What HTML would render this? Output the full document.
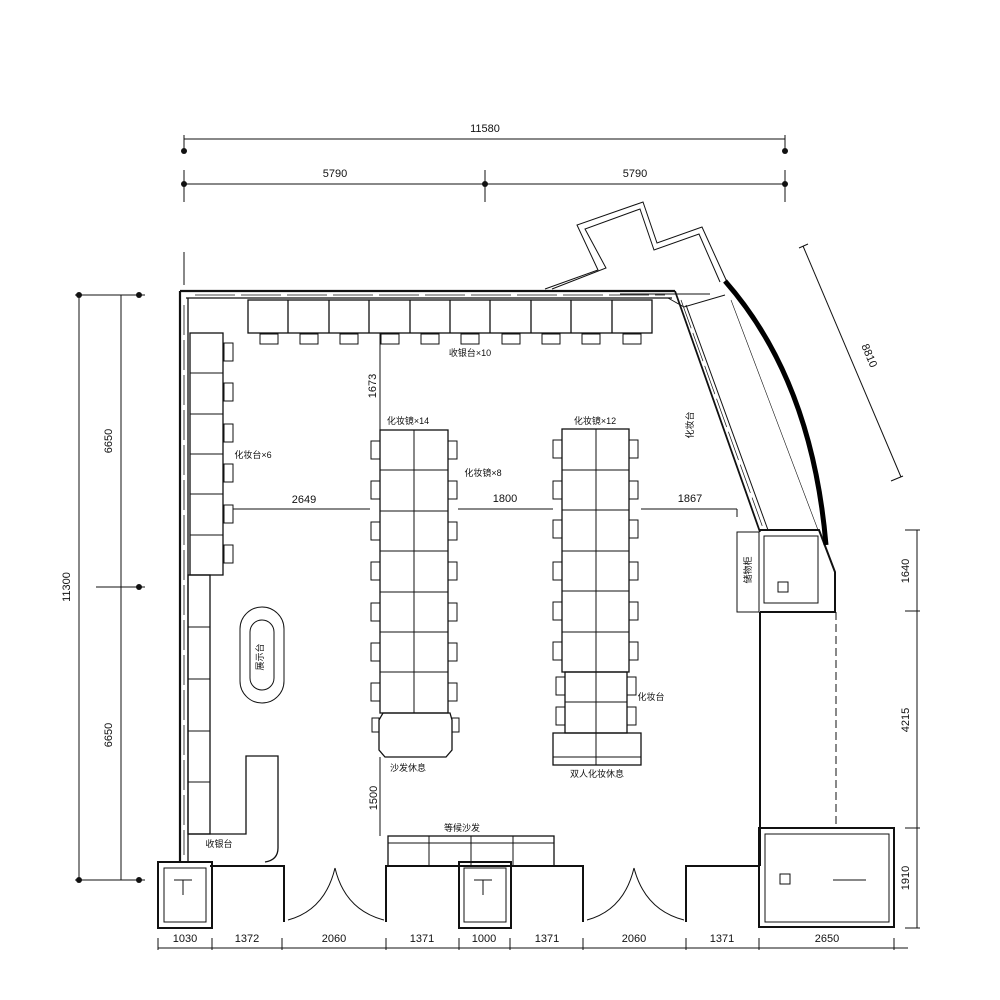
<!DOCTYPE html>
<html><head><meta charset="utf-8"><style>
html,body{margin:0;padding:0;background:#fff}
svg{display:block}
text{font-family:"Liberation Sans","Noto Sans CJK SC",sans-serif;fill:#111}
</style></head><body>
<svg width="1000" height="1000" viewBox="0 0 1000 1000" xmlns="http://www.w3.org/2000/svg">
<rect width="1000" height="1000" fill="#fff"/>
<g stroke="#111" fill="none" stroke-width="1">
<!-- top dims -->
<line x1="184" y1="139" x2="785" y2="139"/>
<line x1="184" y1="135" x2="184" y2="152"/><line x1="785" y1="135" x2="785" y2="152"/>
<line x1="184" y1="184" x2="785" y2="184"/>
<line x1="184" y1="170" x2="184" y2="202"/><line x1="485" y1="170" x2="485" y2="202"/><line x1="785" y1="170" x2="785" y2="202"/>
<line x1="184" y1="252" x2="184" y2="285"/>
<!-- left dims -->
<line x1="79" y1="295" x2="79" y2="880"/>
<line x1="121" y1="295" x2="121" y2="880"/>
<line x1="75" y1="295" x2="145" y2="295"/><line x1="96" y1="587" x2="145" y2="587"/><line x1="75" y1="880" x2="145" y2="880"/>
<!-- bottom dims -->
<line x1="158" y1="948" x2="908" y2="948"/>
<line x1="158" y1="938" x2="158" y2="950"/><line x1="212" y1="938" x2="212" y2="950"/><line x1="282" y1="938" x2="282" y2="950"/><line x1="386" y1="938" x2="386" y2="950"/><line x1="459" y1="938" x2="459" y2="950"/><line x1="510" y1="938" x2="510" y2="950"/><line x1="583" y1="938" x2="583" y2="950"/><line x1="686" y1="938" x2="686" y2="950"/><line x1="759" y1="938" x2="759" y2="950"/><line x1="894" y1="938" x2="894" y2="950"/>
<!-- right dims -->
<line x1="917" y1="530" x2="917" y2="928"/>
<line x1="905" y1="530" x2="920" y2="530"/><line x1="905" y1="611" x2="920" y2="611"/><line x1="905" y1="828" x2="920" y2="828"/><line x1="905" y1="928" x2="920" y2="928"/>
<!-- diagonal dim -->
<line x1="803" y1="246" x2="901" y2="477"/>
<line x1="799" y1="248" x2="808" y2="244"/><line x1="891" y1="481" x2="903" y2="476"/>
</g>
<g fill="#111">
<circle cx="184" cy="151" r="3"/><circle cx="785" cy="151" r="3"/>
<circle cx="184" cy="184" r="3"/><circle cx="485" cy="184" r="3"/><circle cx="785" cy="184" r="3"/>
<circle cx="79" cy="295" r="3"/><circle cx="139" cy="295" r="3"/><circle cx="139" cy="587" r="3"/><circle cx="79" cy="880" r="3"/><circle cx="139" cy="880" r="3"/>
</g>
<g font-size="11" text-anchor="middle">
<text x="485" y="132">11580</text>
<text x="335" y="177">5790</text>
<text x="635" y="177">5790</text>
<text transform="translate(70,587) rotate(-90)">11300</text>
<text transform="translate(112,441) rotate(-90)">6650</text>
<text transform="translate(112,735) rotate(-90)">6650</text>
<text x="185" y="942">1030</text><text x="247" y="942">1372</text><text x="334" y="942">2060</text><text x="422" y="942">1371</text><text x="484" y="942">1000</text><text x="547" y="942">1371</text><text x="634" y="942">2060</text><text x="722" y="942">1371</text><text x="827" y="942">2650</text>
<text transform="translate(909,571) rotate(-90)">1640</text>
<text transform="translate(909,720) rotate(-90)">4215</text>
<text transform="translate(909,878) rotate(-90)">1910</text>
<text transform="translate(866,357) rotate(67)">8810</text>
<text x="304" y="503">2649</text>
<text x="505" y="502">1800</text>
<text x="690" y="502">1867</text>
<text transform="translate(376,386) rotate(-90)">1673</text>
<text transform="translate(377,798) rotate(-90)">1500</text>
</g>
<g font-size="9" text-anchor="middle">
<text x="470" y="356">收银台×10</text>
<text x="253" y="458">化妆台×6</text>
<text x="408" y="424">化妆镜×14</text>
<text x="483" y="476">化妆镜×8</text>
<text x="595" y="424">化妆镜×12</text>
<text x="651" y="700">化妆台</text>
<text x="408" y="771">沙发休息</text>
<text x="597" y="777">双人化妆休息</text>
<text x="462" y="831">等候沙发</text>
<text x="219" y="847">收银台</text>
<text transform="translate(693,425) rotate(-90)">化妆台</text>
<text transform="translate(751,570) rotate(-90)">储物柜</text>
<text transform="translate(263,657) rotate(-90)">展示台</text>
</g>
<g stroke="#111" fill="none" stroke-width="1.3">
<!-- top wall -->
<line x1="180" y1="291" x2="675" y2="291" stroke-width="2.2"/>
<line x1="186" y1="298" x2="672" y2="298"/>
<line x1="195" y1="295" x2="665" y2="295" stroke-dasharray="40,6" stroke-width="0.8"/>
<!-- left wall -->
<line x1="180" y1="291" x2="180" y2="862" stroke-width="2.2"/>
<line x1="188" y1="298" x2="188" y2="862"/>
<line x1="184" y1="305" x2="184" y2="855" stroke-dasharray="30,5" stroke-width="0.8"/>
<!-- top cabinets -->
<rect x="248" y="300" width="404" height="33"/>
<line x1="288" y1="300" x2="288" y2="333"/><line x1="329" y1="300" x2="329" y2="333"/><line x1="369" y1="300" x2="369" y2="333"/><line x1="410" y1="300" x2="410" y2="333"/><line x1="450" y1="300" x2="450" y2="333"/><line x1="490" y1="300" x2="490" y2="333"/><line x1="531" y1="300" x2="531" y2="333"/><line x1="571" y1="300" x2="571" y2="333"/><line x1="612" y1="300" x2="612" y2="333"/>
</g>
<g stroke="#111" fill="none" stroke-width="1">
<rect x="260" y="334" width="18" height="10"/><rect x="300" y="334" width="18" height="10"/><rect x="340" y="334" width="18" height="10"/><rect x="381" y="334" width="18" height="10"/><rect x="421" y="334" width="18" height="10"/><rect x="461" y="334" width="18" height="10"/><rect x="502" y="334" width="18" height="10"/><rect x="542" y="334" width="18" height="10"/><rect x="582" y="334" width="18" height="10"/><rect x="623" y="334" width="18" height="10"/>
<!-- left cabinets -->
<rect x="190" y="333" width="33" height="242" stroke-width="1.3"/>
<line x1="190" y1="373" x2="223" y2="373"/><line x1="190" y1="414" x2="223" y2="414"/><line x1="190" y1="454" x2="223" y2="454"/><line x1="190" y1="494" x2="223" y2="494"/><line x1="190" y1="535" x2="223" y2="535"/>
<rect x="224" y="343" width="9" height="18"/><rect x="224" y="383" width="9" height="18"/><rect x="224" y="424" width="9" height="18"/><rect x="224" y="464" width="9" height="18"/><rect x="224" y="505" width="9" height="18"/><rect x="224" y="545" width="9" height="18"/>
<!-- lower left cabinets -->
<rect x="188" y="575" width="22" height="259" stroke-width="1.3"/>
<line x1="188" y1="627" x2="210" y2="627"/><line x1="188" y1="679" x2="210" y2="679"/><line x1="188" y1="731" x2="210" y2="731"/><line x1="188" y1="782" x2="210" y2="782"/>
<!-- L counter -->
<path d="M188 834 H246 V756 H278 V848 Q278 860 265 862" stroke-width="1.3"/>
<!-- oval -->
<rect x="240" y="607" width="44" height="96" rx="22"/>
<rect x="250" y="620" width="24" height="70" rx="12"/>
<!-- table 1 -->
<rect x="380" y="430" width="68" height="283" stroke-width="1.3"/>
<line x1="414" y1="430" x2="414" y2="713"/>
<line x1="380" y1="470" x2="448" y2="470"/><line x1="380" y1="511" x2="448" y2="511"/><line x1="380" y1="551" x2="448" y2="551"/><line x1="380" y1="592" x2="448" y2="592"/><line x1="380" y1="632" x2="448" y2="632"/><line x1="380" y1="672" x2="448" y2="672"/>
<rect x="371" y="441" width="9" height="18"/><rect x="371" y="481" width="9" height="18"/><rect x="371" y="522" width="9" height="18"/><rect x="371" y="562" width="9" height="18"/><rect x="371" y="603" width="9" height="18"/><rect x="371" y="643" width="9" height="18"/><rect x="371" y="683" width="9" height="18"/>
<rect x="448" y="441" width="9" height="18"/><rect x="448" y="481" width="9" height="18"/><rect x="448" y="522" width="9" height="18"/><rect x="448" y="562" width="9" height="18"/><rect x="448" y="603" width="9" height="18"/><rect x="448" y="643" width="9" height="18"/><rect x="448" y="683" width="9" height="18"/>
<path d="M383 713 H450 L452 720 V750 L446 757 H385 L379 750 V720 Z" stroke-width="1.3"/>
<rect x="372" y="718" width="7" height="14"/><rect x="452" y="718" width="7" height="14"/>
<line x1="380" y1="333" x2="380" y2="430"/>
<line x1="380" y1="757" x2="380" y2="836"/>
<!-- table 2 -->
<rect x="562" y="429" width="67" height="243" stroke-width="1.3"/>
<line x1="596" y1="429" x2="596" y2="765"/>
<line x1="562" y1="470" x2="629" y2="470"/><line x1="562" y1="510" x2="629" y2="510"/><line x1="562" y1="551" x2="629" y2="551"/><line x1="562" y1="591" x2="629" y2="591"/><line x1="562" y1="632" x2="629" y2="632"/>
<rect x="565" y="672" width="62" height="61" stroke-width="1.3"/>
<line x1="565" y1="702" x2="627" y2="702"/>
<rect x="553" y="440" width="9" height="18"/><rect x="553" y="481" width="9" height="18"/><rect x="553" y="520" width="9" height="18"/><rect x="553" y="562" width="9" height="18"/><rect x="553" y="602" width="9" height="18"/><rect x="553" y="642" width="9" height="18"/><rect x="556" y="677" width="9" height="18"/><rect x="556" y="707" width="9" height="18"/>
<rect x="629" y="440" width="9" height="18"/><rect x="629" y="481" width="9" height="18"/><rect x="629" y="520" width="9" height="18"/><rect x="629" y="562" width="9" height="18"/><rect x="629" y="602" width="9" height="18"/><rect x="629" y="642" width="9" height="18"/><rect x="627" y="677" width="9" height="18"/><rect x="627" y="707" width="9" height="18"/>
<rect x="553" y="733" width="88" height="32" stroke-width="1.3"/>
<line x1="553" y1="757" x2="641" y2="757"/>
<!-- dim lines inside -->
<line x1="233" y1="509" x2="370" y2="509"/>
<line x1="458" y1="509" x2="553" y2="509"/>
<line x1="641" y1="509" x2="737" y2="509"/><line x1="737" y1="509" x2="737" y2="517"/>
<!-- bench -->
<rect x="388" y="836" width="166" height="30" stroke-width="1.3"/>
<line x1="388" y1="843" x2="554" y2="843"/>
<line x1="429" y1="836" x2="429" y2="866"/><line x1="471" y1="836" x2="471" y2="866"/><line x1="513" y1="836" x2="513" y2="866"/>
</g>
<g stroke="#111" fill="none" stroke-width="2">
<!-- bottom walls -->
<path d="M210 866 H284 V922"/>
<path d="M386 922 V866 H583 V922"/>
<path d="M686 922 V866 H760"/>
<rect x="158" y="862" width="54" height="66"/>
<rect x="459" y="862" width="52" height="66"/>
<line x1="760" y1="612" x2="760" y2="866"/>
<rect x="759" y="828" width="135" height="99"/>
</g>
<g stroke="#111" fill="none" stroke-width="1">
<rect x="164" y="868" width="42" height="54"/>
<path d="M174 880 H192 M183 880 V895"/>
<rect x="464" y="868" width="42" height="54"/>
<path d="M474 880 H492 M483 880 V895"/>
<path d="M288 920 Q325 910 335 868"/><path d="M384 920 Q345 910 335 868"/>
<path d="M587 920 Q624 910 634 868"/><path d="M684 920 Q645 910 634 868"/>
<rect x="765" y="834" width="124" height="88"/>
<rect x="780" y="874" width="10" height="10"/>
<line x1="833" y1="880" x2="866" y2="880"/>
<!-- right upper box -->
<rect x="737" y="532" width="22" height="80"/>
<rect x="764" y="536" width="54" height="67"/>
<rect x="778" y="582" width="10" height="10"/>
<line x1="836" y1="612" x2="836" y2="828" stroke-dasharray="8,4"/>
<!-- diagonal walls -->
<path d="M675 291 L760 532" stroke-width="1.8"/>
<path d="M686 305 L768 530"/>
<path d="M681 300 L763 528" stroke-dasharray="30,5" stroke-width="0.7"/>
<path d="M668 298 L684 307 L725 295"/>
<!-- protrusion -->
<path d="M545 289 L598 270 L577 225 L643 202 L657 243 L702 227 L727 282"/>
<path d="M552 289 L606 268 L585 229 L640 209 L654 250 L699 234 L720 282"/>
<line x1="620" y1="294" x2="710" y2="294"/>
<!-- lower wall of protrusion -->
<path d="M760 530 H819 L835 572 V612 H760" stroke-width="2"/>
<path d="M731 300 L818 530" stroke-width="0.6"/>
</g>
<path d="M725 281 Q812 380 826 545" stroke="#000" stroke-width="5" fill="none"/>
</svg>
</body></html>
